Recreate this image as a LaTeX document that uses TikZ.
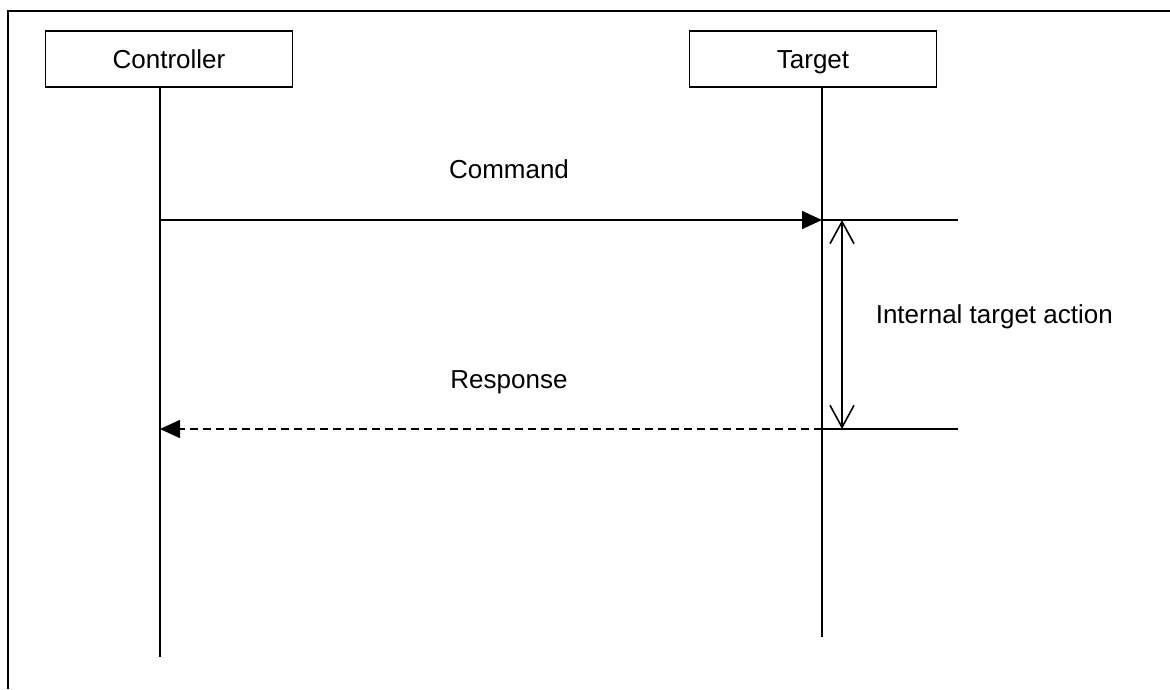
\documentclass[tikz,border=0pt]{standalone}
\usepackage{fontspec}
\setmainfont{Liberation Sans}
\usetikzlibrary{arrows.meta}
\begin{document}
\begin{tikzpicture}[x=1pt,y=-1pt,line width=1.6pt,
  lbl/.style={font=\fontsize{26}{31}\selectfont, inner sep=0pt, anchor=base},
  actor/.style={draw, line width=1.6pt, minimum width=247pt, minimum height=56pt, font=\fontsize{26}{31}\selectfont, inner sep=0pt, text height=19pt, text depth=1pt},
  msg/.style={-{Triangle[length=20pt,width=18pt]}},
  dashmsg/.style={-{Triangle[length=20pt,width=18pt]}, dash pattern=on 8pt off 5pt},
  span/.style={{Straight Barb[length=22pt,width=24pt,line width=1.6pt]}-{Straight Barb[length=22pt,width=24pt,line width=1.6pt]}}]
\useasboundingbox (0,0) rectangle (1170,689);
\draw (8,689) -- (8,11) -- (1170,11);
\node[actor] (ctrl) at (169,59) {Controller};
\node[actor] (tgt) at (813,59) {Target};
\coordinate (cbot) at (160,657);
\coordinate (ctop) at (160,87);
\coordinate (ttop) at (822,87);
\coordinate (tbot) at (822,637);
\draw (ctop) -- (cbot);
\draw (ttop) -- (tbot);
\coordinate (c1) at (160,220);
\coordinate (t1) at (822,220);
\coordinate (e1) at (958,220);
\coordinate (c2) at (160,429);
\coordinate (t2) at (822,429);
\coordinate (e2) at (958,429);
\coordinate (a1) at (842,220);
\coordinate (a2) at (842,429);
\draw[msg] (c1) -- (t1);
\draw (t1) -- (e1);
\draw[dashmsg] (t2) -- (c2);
\draw (t2) -- (e2);
\draw[span] (a1) -- (a2);
\node[lbl] (cmd) at (509,178) {Command};
\node[lbl] (rsp) at (509,388) {Response};
\node[lbl, anchor=base west] (ita) at (875,323) {Internal target action};
\end{tikzpicture}
\end{document}
